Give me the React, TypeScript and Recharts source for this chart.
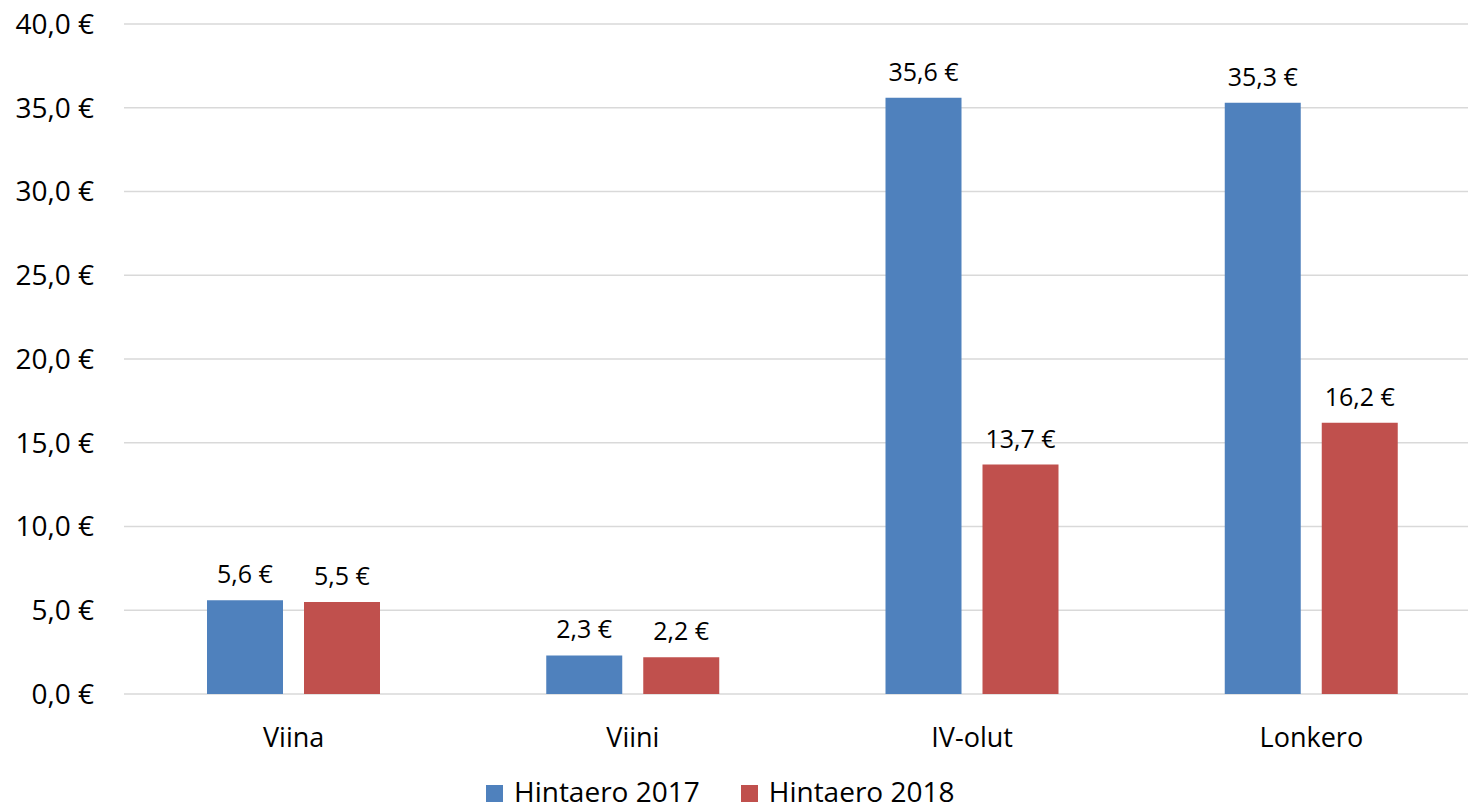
import { Bar, BarChart, CartesianGrid, LabelList, Legend, XAxis, YAxis } from "recharts";

const categories = ["Viina", "Viini", "IV-olut", "Lonkero"];
const hintaero2017 = [5.6, 2.3, 35.6, 35.3];
const hintaero2018 = [5.5, 2.2, 13.7, 16.2];
const yTicks = [0, 5, 10, 15, 20, 25, 30, 35, 40];

const seriesNames = ["Hintaero 2017", "Hintaero 2018"];
const colors = ["#4f81bd", "#c0504d"];

const data = categories.map((name, i) => ({
  name,
  h2017: hintaero2017[i],
  h2018: hintaero2018[i],
}));

const FONT = "'Open Sans', sans-serif";

const euro = (v: number) => v.toFixed(1).replace(".", ",") + " €";

function LegendBox() {
  return (
    <div
      style={{
        display: "flex",
        alignItems: "center",
        height: 30,
        paddingLeft: 486,
        fontFamily: FONT,
        fontSize: 28,
        lineHeight: 1,
        color: "#000",
      }}
    >
      {seriesNames.map((s, i) => (
        <div
          key={s}
          style={{ display: "flex", alignItems: "center", marginRight: 41 }}
        >
          <span
            style={{
              width: 17,
              height: 17,
              background: colors[i],
              marginRight: 11,
              marginTop: 4,
              display: "inline-block",
            }}
          />
          <span style={{ whiteSpace: "nowrap", lineHeight: 1 }}>{s}</span>
        </div>
      ))}
    </div>
  );
}

export default function App() {
  return (
    <div
      style={{
        position: "fixed",
        left: 0,
        top: 0,
        width: 1468,
        height: 810,
        overflow: "hidden",
        background: "#fff",
        fontFamily: FONT,
      }}
    >
      <BarChart
        width={1481}
        height={810}
        data={data}
        margin={{ top: 24, right: 0, bottom: 0, left: 0 }}
        barGap={21}
        barCategoryGap={83}
      >
        <CartesianGrid vertical={false} stroke="#d9d9d9" strokeWidth={1.5} />
        <XAxis
          dataKey="name"
          height={86}
          axisLine={false}
          tickLine={false}
          tickSize={0}
          tickMargin={34}
          tick={{ fontSize: 27, fill: "#000", fontFamily: FONT }}
        />
        <YAxis
          width={124}
          domain={[0, 40]}
          ticks={yTicks}
          axisLine={false}
          tickLine={false}
          tickSize={0}
          tickMargin={30}
          tickFormatter={euro}
          tick={{ fontSize: 28, fill: "#000", fontFamily: FONT }}
        />
        <Legend
          verticalAlign="bottom"
          height={30}
          content={<LegendBox />}
          wrapperStyle={{ left: 0, top: 776, width: 1481, height: 30 }}
        />
        <Bar
          dataKey="h2017"
          name={seriesNames[0]}
          fill={colors[0]}
          isAnimationActive={false}
        >
          <LabelList
            dataKey="h2017"
            position="top"
            offset={17}
            formatter={(v: any) => euro(Number(v))}
            style={{ fontSize: 25, fill: "#000", fontFamily: FONT }}
          />
        </Bar>
        <Bar
          dataKey="h2018"
          name={seriesNames[1]}
          fill={colors[1]}
          isAnimationActive={false}
        >
          <LabelList
            dataKey="h2018"
            position="top"
            offset={17}
            formatter={(v: any) => euro(Number(v))}
            style={{ fontSize: 25, fill: "#000", fontFamily: FONT }}
          />
        </Bar>
      </BarChart>
    </div>
  );
}
